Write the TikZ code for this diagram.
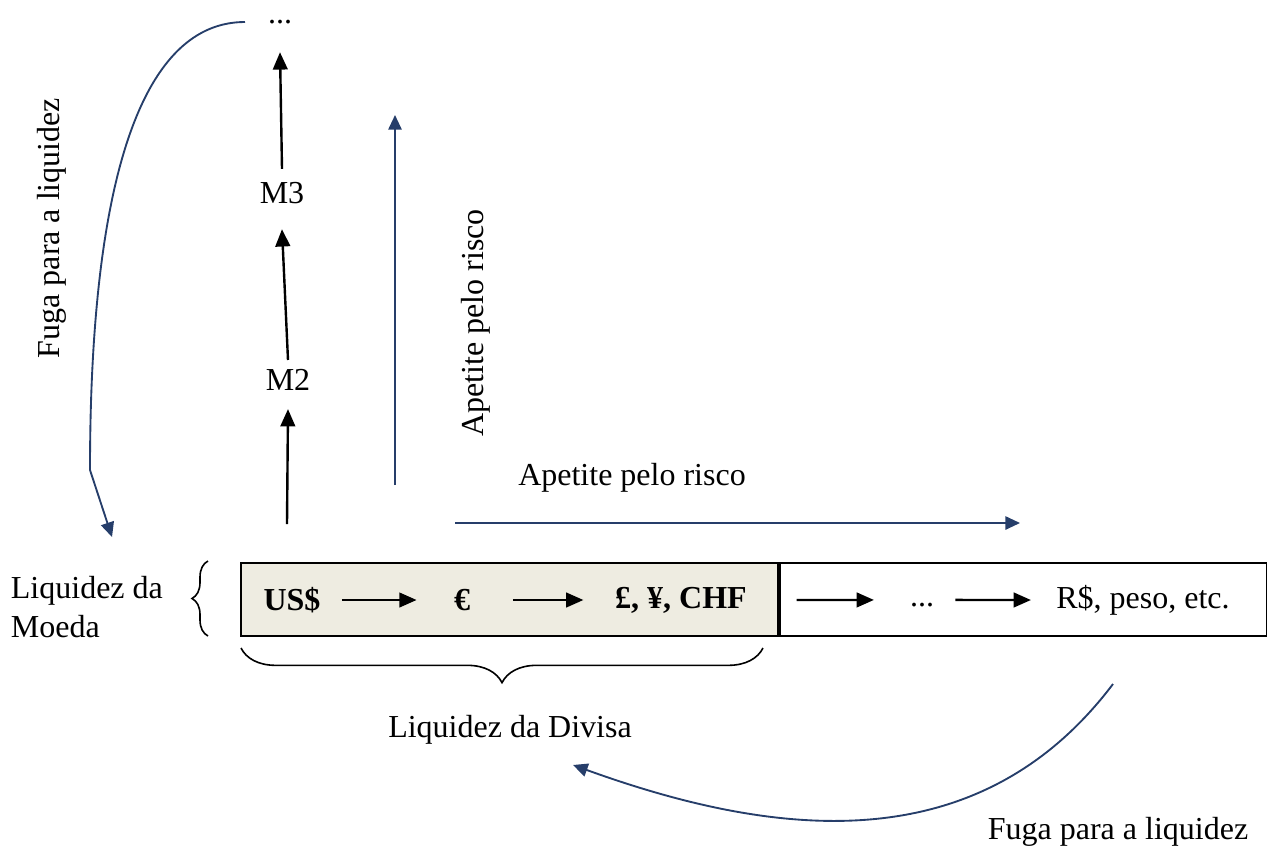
\documentclass[tikz,border=0pt]{standalone}
\usepackage{fontspec}
\setmainfont{Liberation Serif}
\usepackage{xcolor}
\usepackage{tikz}
\usetikzlibrary{arrows.meta, positioning, decorations.pathreplacing}
\definecolor{fuga-blue}{RGB}{38,62,106}
\definecolor{divisa-fill}{RGB}{238,236,225}

\begin{document}
\begin{tikzpicture}[
    x=0.375pt, y=-0.375pt,
    every node/.style={font=\fontsize{12}{14.5}\selectfont},
    blk/.style={draw, line width=0.9pt, -{Triangle[length=6.5pt, width=5.5pt]}},
    blu/.style={draw=fuga-blue, line width=0.7pt,
                -{Triangle[length=5.5pt, width=5pt]}, fuga-blue},
    cell/.style={rectangle, draw, line width=0.75pt,
                 minimum height=27.4pt, inner sep=0pt},
    cur/.style={font=\fontsize{12}{14.5}\selectfont\bfseries},
    brc/.style={draw, line width=0.6pt, decorate,
                decoration={brace, amplitude=#1}},
  ]
    \useasboundingbox (0,0) rectangle (1267,850);

    % faixa das moedas
    \node[cell, fill=divisa-fill, minimum width=201.4pt] (divisa) at (509.5,599.5) {};
    \node[cell, minimum width=182.6pt, anchor=west] (moeda) at (divisa.east) {};

    \node[cur] (usd) at (292,600) {US\$};
    \node[cur] (eur) at (462,600) {€};
    \node[cur] (gbp) at (681,600) {£, ¥, CHF};
    \node (etc) at (922,605) {...};
    \node (brl) at (1143,600) {R\$, peso, etc.};

    \draw[blk] ([xshift=4.5pt]usd.east) -- ([xshift=-10.5pt]eur.west);
    \draw[blk] ([xshift=12.5pt]eur.east) -- ([xshift=-8.4pt]gbp.west);
    \draw[blk] ([xshift=15.2pt]gbp.east) -- ([xshift=-10pt,yshift=1.9pt]etc.west);
    \draw[blk] ([xshift=4.5pt,yshift=1.9pt]etc.east) -- ([xshift=-6pt]brl.west);

    \node[align=left, anchor=west] (liqmoeda) at (1.5,607) {Liquidez da\\Moeda};
    \draw[brc=6pt] (208,636) -- (208,561);

    \draw[brc=13pt] (763,648) -- (241,648);
    \node (liqdivisa) at (510,730) {Liquidez da Divisa};

    % agregados monetarios
    \coordinate (m1) at (287,524);
    \node (m2) at (288,380) {M2};
    \node (m3) at (282,193) {M3};
    \node (topdots) at (280,22) {...};

    \draw[blk] (m1) -- ([yshift=-3.4pt]m2.south);
    \draw[blk] (m2.north) -- ([yshift=-6pt]m3.south);
    \draw[blk] ([yshift=1.5pt]m3.north) -- ([yshift=-7.1pt]topdots.south);

    % apetite pelo risco
    \coordinate (apv0) at (395,485);
    \coordinate (apv1) at (395,115);
    \draw[blu] (apv0) -- (apv1);
    \node[rotate=90] (apvlbl) at (476,323) {Apetite pelo risco};

    \coordinate (aph0) at (455,523);
    \coordinate (aph1) at (1020,523);
    \draw[blu] (aph0) -- (aph1);
    \node (aphlbl) at (632,478) {Apetite pelo risco};

    % fuga para a liquidez
    \coordinate (fv0) at (245,22);
    \coordinate (fv1) at (90,470);
    \coordinate (fv2) at (112,537);
    \draw[blu] (fv0) .. controls (145,22) and (90,170) .. (fv1) -- (fv2);
    \node[rotate=90] (fvlbl) at (52,228) {Fuga para a liquidez};

    \coordinate (fh0) at (1113,684);
    \coordinate (fh1) at (573,765);
    \draw[blu] (fh0) .. controls (980,860) and (780,840) .. (fh1);
    \node (fhlbl) at (1118,832) {Fuga para a liquidez};
  \end{tikzpicture}
\end{document}
